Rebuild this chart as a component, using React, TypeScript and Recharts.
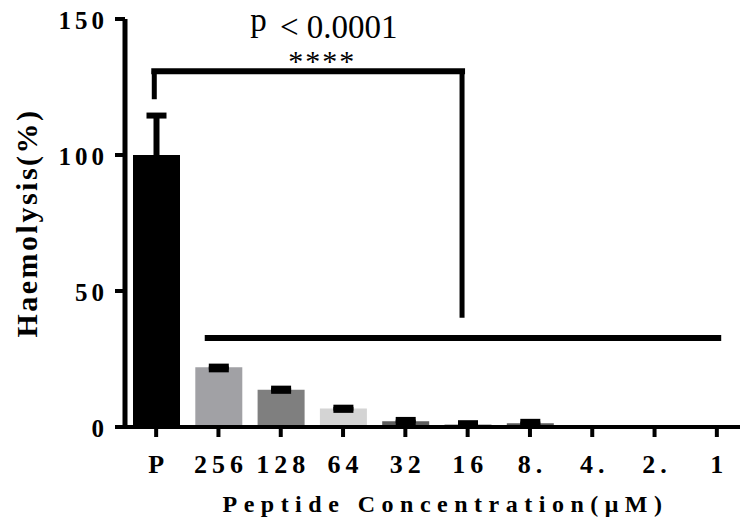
import React from 'react';
import { BarChart, Bar, XAxis, YAxis, Cell, ErrorBar, ReferenceLine } from 'recharts';

const concentrations = ['P', '256', '128', '64', '32', '16', '8.', '4.', '2.', '1'];
const haemolysis = [100, 22, 13.7, 6.8, 2.1, 1.0, 1.4, 0, 0, 0];
const errLow = [1.2, 0.8, 0.4, 0.5, 0.5, 0.4, 0.5, 0, 0, 0];
const errHigh = [14.5, 0.2, 0.4, 0.3, 0.5, 0.4, 0.5, 0, 0, 0];
const barColors = ['#000000', '#a1a1a5', '#7f7f7f', '#d4d4d4', '#5e5e5e', '#a9a9a9', '#5c5c5c', '#888888', '#888888', '#888888'];
const yTicks = [0, 50, 100, 150];

// significance bracket (y in %, x on a 0..10 scale across the category bands)
const bracketTop = 130.8;
const bracketLeftX = 0.47;
const bracketLeftBottom = 120.5;
const bracketRightX = 5.41;
const bracketRightBottom = 40.2;
const groupLineY = 32.7;
const groupLineStart = 1.28;
const groupLineEnd = 9.57;

const SERIF = '"Liberation Serif", "Times New Roman", serif';

const data = concentrations.map((name, i) => ({
  name,
  slot: i + 0.5,
  value: haemolysis[i],
  err: errLow[i] === 0 && errHigh[i] === 0 ? 0 : [errLow[i], errHigh[i]],
}));

function XTick({ x, y, payload }: any) {
  return (
    <text
      x={x + 2.5}
      y={y}
      dy={34}
      textAnchor="middle"
      fontFamily={SERIF}
      fontWeight="bold"
      fontSize={26}
      fill="#000"
      style={{ letterSpacing: 5 }}
    >
      {payload.value}
    </text>
  );
}

function YTick({ x, y, payload }: any) {
  return (
    <text
      x={x + 1}
      y={y}
      dy={10}
      textAnchor="end"
      fontFamily={SERIF}
      fontWeight="bold"
      fontSize={25}
      fill="#000"
      style={{ letterSpacing: 4 }}
    >
      {payload.value}
    </text>
  );
}

function YTitle({ viewBox }: any) {
  const cx = viewBox.x - 28;
  const cy = viewBox.y + viewBox.height / 2;
  return (
    <text
      x={cx}
      y={cy}
      transform={`rotate(-90, ${cx}, ${cy})`}
      textAnchor="middle"
      fontFamily={SERIF}
      fontWeight="bold"
      fontSize={30}
      fill="#000"
      style={{ letterSpacing: 2.5 }}
    >
      Haemolysis(%)
    </text>
  );
}

function XTitle({ viewBox }: any) {
  return (
    <text
      x={viewBox.x + viewBox.width / 2 + 9}
      y={viewBox.y + 85}
      textAnchor="middle"
      fontFamily={SERIF}
      fontWeight="bold"
      fontSize={24}
      fill="#000"
      style={{ letterSpacing: 6.5 }}
    >
      Peptide Concentration(μM)
    </text>
  );
}

function SigLabel({ viewBox }: any) {
  const cx = viewBox.x + viewBox.width / 2;
  const top = viewBox.y;
  return (
    <g>
      <text x={cx - 58} y={top - 33} textAnchor="start" fontFamily={SERIF} fontSize={33} fill="#000">
        <tspan dy={-7}>p</tspan>
        <tspan dx={5} dy={7}> &lt; 0.0001</tspan>
      </text>
      <text
        x={cx + 14}
        y={top}
        textAnchor="middle"
        fontFamily={SERIF}
        fontSize={30}
        fill="#000"
        style={{ letterSpacing: 2 }}
      >
        ****
      </text>
    </g>
  );
}

export default function App() {
  return (
    <div style={{ position: 'absolute', left: 0, top: 0, width: 740, height: 525, overflow: 'hidden', background: '#fff' }}>
      <BarChart
        width={760}
        height={525}
        data={data}
        margin={{ top: 19, right: 12, bottom: 38, left: 65 }}
        barSize={47}
      >
        <XAxis
          dataKey="name"
          height={60}
          interval={0}
          tickSize={10}
          tickMargin={2}
          axisLine={{ stroke: '#000', strokeWidth: 4 }}
          tickLine={{ stroke: '#000', strokeWidth: 4 }}
          tick={<XTick />}
          label={{ content: XTitle }}
        />
        <XAxis xAxisId="num" dataKey="slot" type="number" domain={[0, 10]} allowDataOverflow hide />
        <YAxis
          width={60}
          domain={[0, 150]}
          ticks={yTicks}
          tickSize={10}
          tickMargin={8}
          axisLine={{ stroke: '#000', strokeWidth: 5 }}
          tickLine={{ stroke: '#000', strokeWidth: 4 }}
          tick={<YTick />}
          label={{ content: YTitle }}
        />
        <Bar dataKey="value" isAnimationActive={false}>
          {data.map((d, i) => (
            <Cell key={d.name} fill={barColors[i]} />
          ))}
          <ErrorBar dataKey="err" direction="y" width={10} strokeWidth={6} stroke="#000" />
        </Bar>
        <ReferenceLine
          xAxisId="num"
          segment={[{ x: bracketLeftX, y: bracketTop }, { x: bracketRightX, y: bracketTop }]}
          stroke="#000"
          strokeWidth={6}
          strokeLinecap="square"
          label={{ content: SigLabel }}
        />
        <ReferenceLine
          xAxisId="num"
          segment={[{ x: bracketLeftX, y: bracketTop }, { x: bracketLeftX, y: bracketLeftBottom }]}
          stroke="#000"
          strokeWidth={5}
        />
        <ReferenceLine
          xAxisId="num"
          segment={[{ x: bracketRightX, y: bracketTop }, { x: bracketRightX, y: bracketRightBottom }]}
          stroke="#000"
          strokeWidth={5}
        />
        <ReferenceLine
          xAxisId="num"
          segment={[{ x: groupLineStart, y: groupLineY }, { x: groupLineEnd, y: groupLineY }]}
          stroke="#000"
          strokeWidth={6}
        />
      </BarChart>
    </div>
  );
}
